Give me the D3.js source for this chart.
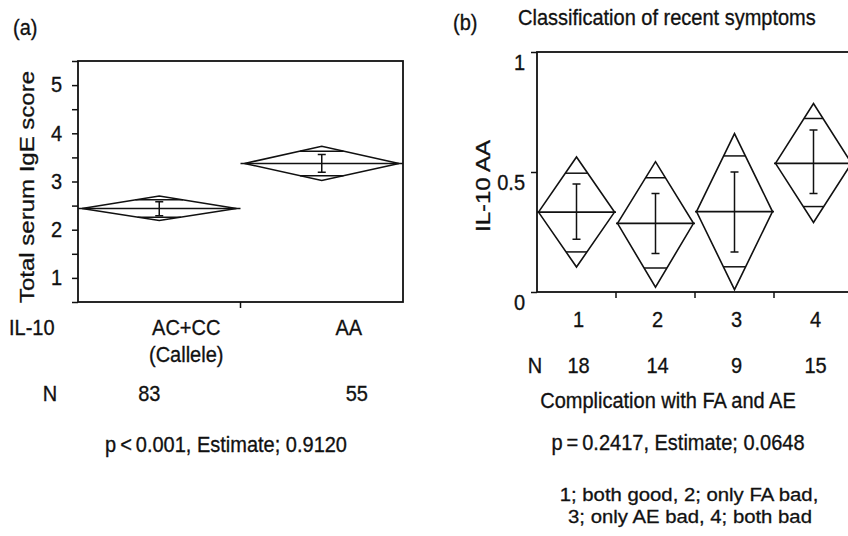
<!DOCTYPE html>
<html>
<head>
<meta charset="utf-8">
<script src="https://cdn.jsdelivr.net/npm/d3@7"></script>
<style>
  html, body { margin: 0; padding: 0; background: #fff; }
  svg text { font-family: "Liberation Sans", Arial, sans-serif; font-size: 20px; fill: #111; stroke: #111; stroke-width: 0.3px; }
</style>
</head>
<body>
<script>
// panel (a): IL-10 genotype vs total serum IgE score
const genoCats = ['AC+CC', 'AA'];
const genoSub = ['(Callele)', ''];
const genoN = [83, 55];
const genoMean = [2.44, 3.375];
const genoCiLo = [2.19, 3.02];
const genoCiHi = [2.70, 3.73];
const genoOvLo = [2.26, 3.12];
const genoOvHi = [2.62, 3.63];
const genoErrLo = [2.29, 3.19];
const genoErrHi = [2.58, 3.56];
const igeTicks = [0.5, 1, 1.5, 2, 2.5, 3, 3.5, 4, 4.5, 5, 5.5];

// panel (b): complication class vs IL-10 AA proportion
const compCats = ['1', '2', '3', '4'];
const compN = [18, 14, 9, 15];
const compMean = [0.333, 0.286, 0.335, 0.536];
const compCiLo = [0.104, 0.02, 0.01, 0.29];
const compCiHi = [0.5625, 0.543, 0.66, 0.785];
const compOvLo = [0.167, 0.10, 0.105, 0.356];
const compOvHi = [0.495, 0.476, 0.567, 0.723];
const compErrLo = [0.22, 0.16, 0.167, 0.41];
const compErrHi = [0.45, 0.41, 0.50, 0.675];
const aaTicks = [0, 0.5, 1];
const compLegend = ['1; both good, 2; only FA bad,', '3; only AE bad, 4; both bad'];

const width = 848;
const height = 536;
const SY = 1.07;  // horizontal text is a little taller than normal in the scan
const SL = 1.2;   // rotated labels are longer than normal

const svg = d3.select('body')
  .append('svg')
  .attr('width', width)
  .attr('height', height);

function txt(x, y, s, anchor = 'middle', sy = SY, sx = 1) {
  return svg.append('text')
    .attr('transform', `translate(${x},${y}) scale(${sx},${sy})`)
    .attr('text-anchor', anchor)
    .text(s);
}

function diamonds(g, x, y, cats, mean, ciLo, ciHi, ovLo, ovHi, errLo, errHi, inset) {
  const bw = x.bandwidth();
  cats.forEach((c, i) => {
    const x0 = x(c) + inset;
    const x1 = x(c) + bw - inset;
    const xc = x(c) + bw / 2;
    const hw = (x1 - x0) / 2;
    const ym = y(mean[i]);
    g.append('path')
      .attr('d', `M${x0},${ym}L${xc},${y(ciHi[i])}L${x1},${ym}L${xc},${y(ciLo[i])}Z`)
      .attr('fill', 'none')
      .attr('stroke', '#111')
      .attr('stroke-width', 1.6);
    // mean line across the whole group
    g.append('line')
      .attr('x1', x(c)).attr('x2', x(c) + bw)
      .attr('y1', ym).attr('y2', ym)
      .attr('stroke', '#111').attr('stroke-width', 1.6);
    // overlap marks
    [[ovHi[i], ciHi[i]], [ovLo[i], ciLo[i]]].forEach(([v, apex]) => {
      const yv = y(v);
      const f = 1 - Math.abs(yv - ym) / Math.abs(y(apex) - ym);
      g.append('line')
        .attr('x1', xc - hw * f).attr('x2', xc + hw * f)
        .attr('y1', yv).attr('y2', yv)
        .attr('stroke', '#111').attr('stroke-width', 1.5);
    });
    // error bar
    const yl = y(errLo[i]);
    const yh = y(errHi[i]);
    g.append('path')
      .attr('d', `M${xc},${yl}V${yh}M${xc - 4},${yl}H${xc + 4}M${xc - 4},${yh}H${xc + 4}`)
      .attr('fill', 'none')
      .attr('stroke', '#111')
      .attr('stroke-width', 1.5);
  });
}

// ---------- panel (a)
const ax = d3.scaleBand().domain(genoCats).range([78, 403]).padding(0);
const ay = d3.scaleLinear().domain([0.5, 5.5]).range([302, 61]);
const ga = svg.append('g');

ga.append('rect')
  .attr('x', 78).attr('y', 61)
  .attr('width', 403 - 78).attr('height', 302 - 61)
  .attr('fill', 'none').attr('stroke', '#111').attr('stroke-width', 1.8);

const ayAxis = ga.append('g')
  .attr('transform', 'translate(78,0)')
  .call(d3.axisLeft(ay).tickValues(igeTicks).tickSize(6)
    .tickFormat(d => Number.isInteger(d) && d >= 1 && d <= 5 ? d : ''));
ayAxis.select('.domain').remove();
ayAxis.selectAll('line').attr('stroke', '#111').attr('stroke-width', 1.5);
ayAxis.selectAll('text')
  .attr('font-size', 20)
  .attr('font-family', '"Liberation Sans", Arial, sans-serif')
  .attr('fill', '#111')
  .attr('x', -16)
  .attr('transform', `scale(1,${SY})`);

genoCats.slice(1).forEach(c => {
  ga.append('line')
    .attr('x1', ax(c)).attr('x2', ax(c))
    .attr('y1', 302).attr('y2', 308)
    .attr('stroke', '#111').attr('stroke-width', 1.5);
});

diamonds(ga, ax, ay, genoCats, genoMean, genoCiLo, genoCiHi, genoOvLo, genoOvHi,
  genoErrLo, genoErrHi, 4);

txt(13, 35, '(a)', 'start');
svg.append('text')
  .attr('transform', `translate(34,187) rotate(-90) scale(${SL},1)`)
  .attr('text-anchor', 'middle')
  .text('Total serum IgE score');

txt(9, 335, 'IL-10', 'start');
genoCats.forEach((c, i) => {
  const cx = ax(c) + ax.bandwidth() / 2 + 27;
  txt(cx, 335, c);
  if (genoSub[i]) txt(cx, 362, genoSub[i]);
});
txt(50, 401, 'N');
const nShiftA = [-10, 35];
genoCats.forEach((c, i) => {
  txt(ax(c) + ax.bandwidth() / 2 + nShiftA[i], 401, genoN[i]);
});
txt(226, 452, 'p\u2009<\u20090.001, Estimate; 0.9120');

// ---------- panel (b)
const bx = d3.scaleBand().domain(compCats).range([537, 853]).padding(0);
const by = d3.scaleLinear().domain([0, 1]).range([292, 52]);
const gb = svg.append('g');

gb.append('rect')
  .attr('x', 537).attr('y', 52)
  .attr('width', 853 - 537).attr('height', 292 - 52)
  .attr('fill', 'none').attr('stroke', '#111').attr('stroke-width', 1.8);

const byAxis = gb.append('g')
  .attr('transform', 'translate(537,0)')
  .call(d3.axisLeft(by).tickValues(aaTicks).tickSize(6).tickFormat(d3.format('~g')));
byAxis.select('.domain').remove();
byAxis.selectAll('line').attr('stroke', '#111').attr('stroke-width', 1.5);
byAxis.selectAll('text')
  .attr('font-size', 20)
  .attr('font-family', '"Liberation Sans", Arial, sans-serif')
  .attr('fill', '#111')
  .attr('x', -12)
  .attr('dy', '0.8em')
  .attr('transform', `scale(1,${SY})`);

compCats.slice(1).forEach(c => {
  gb.append('line')
    .attr('x1', bx(c)).attr('x2', bx(c))
    .attr('y1', 292).attr('y2', 298)
    .attr('stroke', '#111').attr('stroke-width', 1.5);
});

diamonds(gb, bx, by, compCats, compMean, compCiLo, compCiHi, compOvLo, compOvHi,
  compErrLo, compErrHi, 1.5);

txt(453, 30, '(b)', 'start');
txt(518, 25, 'Classification of recent symptoms', 'start');
svg.append('text')
  .attr('transform', `translate(490,186) rotate(-90) scale(${SL},1)`)
  .attr('text-anchor', 'middle')
  .text('IL-10 AA');

compCats.forEach((c, i) => {
  const cx = bx(c) + bx.bandwidth() / 2 + 2;
  txt(cx, 327, c);
  txt(cx, 373, compN[i]);
});
txt(535, 373, 'N');
txt(668, 408, 'Complication with FA and AE');
txt(678, 450, 'p\u2009=\u20090.2417, Estimate; 0.0648');
txt(689, 501, compLegend[0], 'middle', 1, 1.07).style('font-size', '19px');
txt(690, 523, compLegend[1], 'middle', 1, 1.07).style('font-size', '19px');
</script>
</body>
</html>
